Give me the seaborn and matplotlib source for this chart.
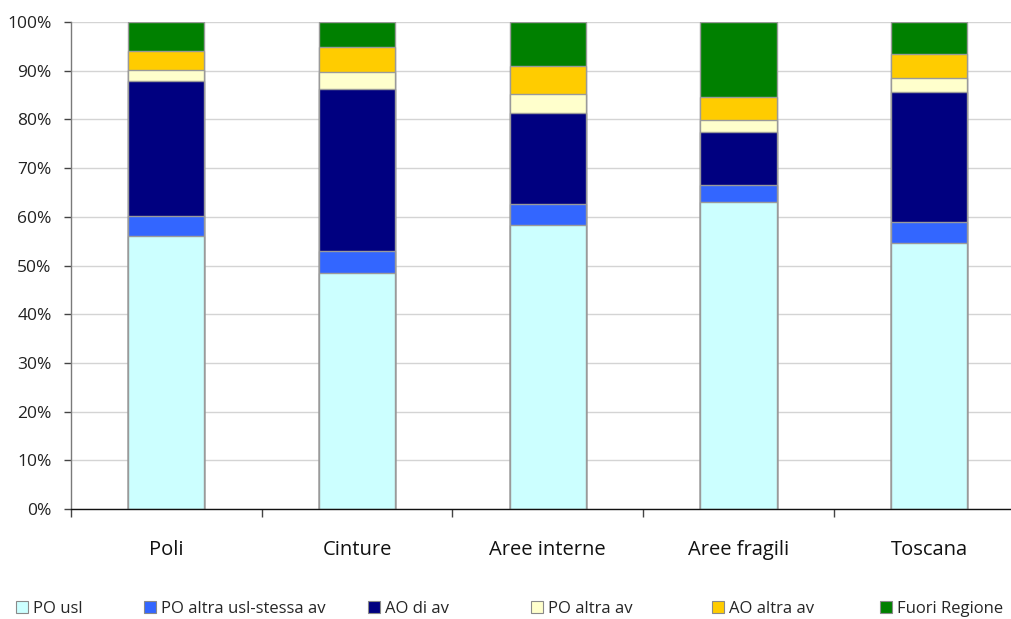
import matplotlib
matplotlib.use("Agg")
import matplotlib.pyplot as plt
from matplotlib.patches import Patch
from matplotlib.ticker import FixedLocator, PercentFormatter
import numpy as np
import pandas as pd
import seaborn as sns

# Share of hospital admissions by provider type, per area (%)
areas = ["Poli", "Cinture", "Aree interne", "Aree fragili", "Toscana"]
po_usl = [56.1, 48.5, 58.3, 63.1, 54.7]
po_altra_usl = [4.1, 4.5, 4.3, 3.4, 4.3]
ao_di_av = [27.8, 33.2, 18.8, 11.0, 26.6]
po_altra_av = [2.3, 3.6, 3.9, 2.4, 3.0]
ao_altra_av = [3.8, 5.1, 5.7, 4.6, 4.8]
fuori_regione = [6.0, 5.1, 9.0, 15.5, 6.6]

series_names = ["PO usl", "PO altra usl-stessa av", "AO di av",
                "PO altra av", "AO altra av", "Fuori Regione"]
series_values = [po_usl, po_altra_usl, ao_di_av, po_altra_av, ao_altra_av, fuori_regione]
series_colors = ["#CCFFFF", "#3366FF", "#000080", "#FFFFCC", "#FFCC00", "#008000"]

sns.set_theme(style="white")
plt.rcParams["font.family"] = ["Open Sans", "DejaVu Sans"]

fig = plt.figure(figsize=(10.12, 6.19), dpi=100)
ax = fig.add_axes([71 / 1012, 110 / 619, 941 / 1012, 487 / 619])

# Stacked bars: draw cumulative totals from the top segment down
vals = np.array(series_values)
cum = np.cumsum(vals, axis=0)
cum = cum / cum[-1] * 100.0
for i in range(len(series_names) - 1, -1, -1):
    df = pd.DataFrame({"area": areas, "share": cum[i]})
    sns.barplot(data=df, x="area", y="share", color=series_colors[i],
                saturation=1, width=0.4, edgecolor="#9a9a9a", linewidth=1.0,
                errorbar=None, ax=ax, zorder=2)

ax.set_ylim(0, 100)
ax.set_xlim(-0.5, -0.5 + 941 / 190.7)
ax.yaxis.set_major_locator(FixedLocator(np.arange(0, 101, 10)))
ax.yaxis.set_major_formatter(PercentFormatter(decimals=0))
ax.yaxis.grid(True, color="#d4d4d4", linewidth=1.0, zorder=0)
ax.set_axisbelow(True)
ax.set_xlabel("")
ax.set_ylabel("")

for side in ["top", "right"]:
    ax.spines[side].set_visible(False)
ax.spines["left"].set_color("#7a7a7a")
ax.spines["left"].set_linewidth(1.0)
ax.spines["bottom"].set_color("#111111")
ax.spines["bottom"].set_linewidth(1.0)

ax.tick_params(axis="y", which="major", direction="out", length=5, width=1,
               color="#444444", labelsize=12.5, labelcolor="#222222", pad=9, left=True)
ax.set_xticks(range(len(areas)))
ax.set_xticklabels(areas)
ax.tick_params(axis="x", which="major", length=0, pad=22, labelsize=14.5, labelcolor="#111111")
ax.xaxis.set_minor_locator(FixedLocator(np.arange(-0.5, 4.0, 1.0)))
ax.tick_params(axis="x", which="minor", direction="out", length=6, width=1,
               color="#444444", bottom=True)

# Legend row at the bottom, one entry per series
legend_x = [16, 144, 368, 531, 712, 880]
for name, color, x in zip(series_names, series_colors, legend_x):
    handle = Patch(facecolor=color, edgecolor="#8a8a8a", linewidth=0.8)
    fig.legend([handle], [name], loc="center left",
               bbox_to_anchor=(x / 1012, 1 - 609 / 619), frameon=False,
               fontsize=12, handlelength=0.7, handleheight=0.7,
               handletextpad=0.3, borderpad=0, borderaxespad=0)

fig.savefig("out.png", dpi=100)
